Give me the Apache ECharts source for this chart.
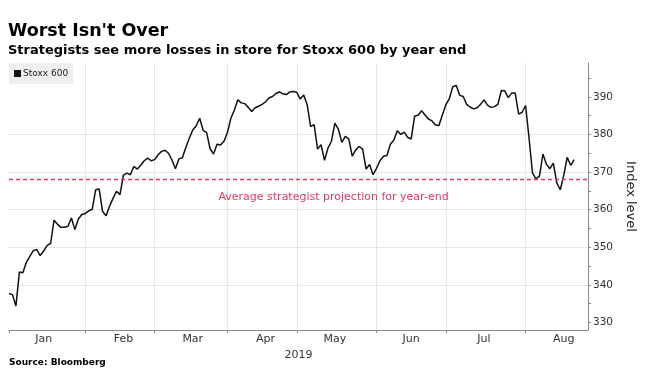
<!DOCTYPE html>
<html><head><meta charset="utf-8">
<script src="https://cdn.jsdelivr.net/npm/echarts@6/dist/echarts.min.js"></script>
<style>html,body{margin:0;padding:0;background:#fff}#c{width:654px;height:392px}</style>
</head><body><div id="c"></div>
<script>
const titleText = "Worst Isn't Over";
const subtitleText = "Strategists see more losses in store for Stoxx 600 by year end";
const sourceText = "Source: Bloomberg";
const seriesName = "Stoxx 600";
const yAxisName = "Index level";
const yearLabel = "2019";
const monthNames = ["Jan","Feb","Mar","Apr","May","Jun","Jul","Aug"];
const yTicks = [330, 340, 350, 360, 370, 380, 390];
const yMinorTicks = [335, 345, 355, 365, 375, 385, 395];
const projection = 368;
const projectionLabel = "Average strategist projection for year-end";
const holidays = ["2019-04-19", "2019-04-22"];

// Daily closes by month (trading days)
const jan = [337.7, 337.4, 334.4, 343.4, 343.2, 346.0, 347.6, 349.1, 349.4, 347.8, 349.0, 350.5, 351.0, 357.2, 356.1, 355.3, 355.3, 355.6, 357.8, 354.7, 357.5, 358.7];
const feb = [359.0, 359.7, 360.1, 365.3, 365.5, 359.5, 358.4, 360.9, 363.0, 364.9, 364.0, 369.2, 369.7, 369.3, 371.5, 370.8, 371.8, 373.0, 373.7, 373.0];
const mar = [373.3, 374.6, 375.5, 375.8, 375.0, 373.2, 370.9, 373.5, 373.8, 376.5, 379.0, 381.2, 382.3, 384.3, 381.1, 380.5, 376.2, 374.8, 377.4, 377.2, 378.2];
const apr = [380.5, 384.3, 386.5, 389.2, 388.4, 388.2, 387.2, 386.1, 387.1, 387.5, 388.0, 388.7, 389.7, 390.1, 390.9, 391.3, 390.8, 390.6, 391.3, 391.4];
const may = [391.2, 389.4, 390.5, 387.9, 382.1, 382.6, 376.1, 377.3, 373.1, 376.4, 378.2, 383.0, 381.4, 377.9, 379.5, 378.8, 374.2, 375.9, 376.8, 376.1, 370.8, 372.0, 369.3];
const jun = [371.0, 373.0, 374.2, 374.4, 377.4, 378.5, 381.0, 380.0, 380.6, 379.2, 378.8, 384.9, 385.1, 386.3, 385.2, 384.1, 383.6, 382.5, 382.4, 385.2];
const jul = [387.9, 389.5, 392.7, 393.0, 390.4, 390.1, 388.0, 387.3, 386.8, 387.1, 388.0, 389.2, 387.8, 387.2, 387.4, 388.0, 391.7, 391.6, 389.8, 391.0, 391.0, 385.4, 385.9];
const aug = [387.7, 379.0, 369.7, 368.2, 368.9, 374.8, 372.1, 370.9, 372.4, 367.1, 365.3, 369.1, 373.9, 371.8, 373.3];

const values = [].concat(jan, feb, mar, apr, may, jun, jul, aug);

// trading-day calendar (axis categories), extends a few days past the data
const dates = [];
for (let d = new Date(Date.UTC(2019, 0, 2)); d <= new Date(Date.UTC(2019, 7, 27)); d.setUTCDate(d.getUTCDate() + 1)) {
  const wd = d.getUTCDay();
  const s = d.toISOString().slice(0, 10);
  if (wd === 0 || wd === 6 || holidays.indexOf(s) >= 0) continue;
  dates.push(s);
}
const monthOf = s => +s.slice(5, 7);
const dayOf = s => +s.slice(8, 10);
const monthStart = dates.map((s, i) => i === 0 || monthOf(s) !== monthOf(dates[i - 1]));
const labelAt = dates.map((s, i) => dayOf(s) >= 16 && (i === 0 || monthOf(s) !== monthOf(dates[i - 1]) || dayOf(dates[i - 1]) < 16));

const F = "'DejaVu Sans', 'Liberation Sans', sans-serif";
const RED = '#e8375d';
const Y_MIN = 328, Y_MAX = 399;
const chart = echarts.init(document.getElementById('c'), null, {renderer: 'canvas'});
chart.setOption({
  animation: false,
  backgroundColor: '#fff',
  title: [
    {text: titleText, left: 8, top: 22, padding: 0, textStyle: {fontFamily: F, fontSize: 17.5, fontWeight: 'bold', color: '#000'}},
    {text: subtitleText, left: 8, top: 44, padding: 0, textStyle: {fontFamily: F, fontSize: 13, fontWeight: 'bold', color: '#000'}},
    {text: sourceText, left: 9, top: 358, padding: 0, textStyle: {fontFamily: F, fontSize: 9, fontWeight: 'bold', color: '#000'}}
  ],
  legend: {
    data: [seriesName], left: 9, top: 63, backgroundColor: '#efefef',
    padding: [6, 5, 6, 5], itemWidth: 7, itemHeight: 7, icon: 'rect', itemGap: 4,
    textStyle: {fontFamily: F, fontSize: 9, color: '#222', padding: [0, 0, 0, -3]}
  },
  grid: {left: 9, right: 66, top: 63, bottom: 62},
  xAxis: {
    type: 'category', data: dates, boundaryGap: false,
    axisLine: {lineStyle: {color: '#888', width: 1}},
    axisTick: {interval: i => monthStart[i], length: 3, lineStyle: {color: '#888'}},
    axisLabel: {interval: i => labelAt[i], formatter: v => monthNames[monthOf(v) - 1], fontFamily: F, fontSize: 11, color: '#333', margin: 4},
    splitLine: {show: true, interval: i => monthStart[i] && i > 0, lineStyle: {color: '#e6e6e6', width: 1}},
    name: yearLabel, nameLocation: 'middle', nameGap: 20, nameMoveOverlap: false,
    nameTextStyle: {fontFamily: F, fontSize: 11, color: '#333'}
  },
  yAxis: [{
    type: 'value', position: 'right', min: Y_MIN, max: Y_MAX,
    axisLine: {show: true, lineStyle: {color: '#888', width: 1}},
    axisTick: {show: true, customValues: yTicks, length: 3, lineStyle: {color: '#888'}},
    axisLabel: {customValues: yTicks, fontFamily: F, fontSize: 10.5, color: '#333', margin: 5},
    splitLine: {show: true, showMinLine: false, showMaxLine: false, lineStyle: {color: '#e6e6e6', width: 1}},
    name: yAxisName, nameLocation: 'middle', nameRotate: -90, nameGap: 36,
    nameTextStyle: {fontFamily: F, fontSize: 13, color: '#222'}
  }, {
    type: 'value', position: 'right', offset: 0, min: Y_MIN, max: Y_MAX,
    axisLine: {show: false},
    axisTick: {show: true, customValues: yMinorTicks, length: 3, lineStyle: {color: '#888'}},
    axisLabel: {show: false},
    splitLine: {show: false}
  }],
  series: [{
    name: seriesName, type: 'line', data: values, symbol: 'none', z: 3,
    lineStyle: {color: '#111', width: 1.5}, itemStyle: {color: '#111'},
    markLine: {
      silent: true, symbol: ['none', 'none'],
      data: [{yAxis: projection}],
      lineStyle: {color: RED, type: [4, 3], width: 1.4, opacity: 1},
      label: {show: true, formatter: projectionLabel, position: 'insideMiddleBottom', distance: 12,
        padding: [0, 0, 0, 70], fontFamily: F, fontSize: 11, color: RED}
    }
  }]
});
</script></body></html>
